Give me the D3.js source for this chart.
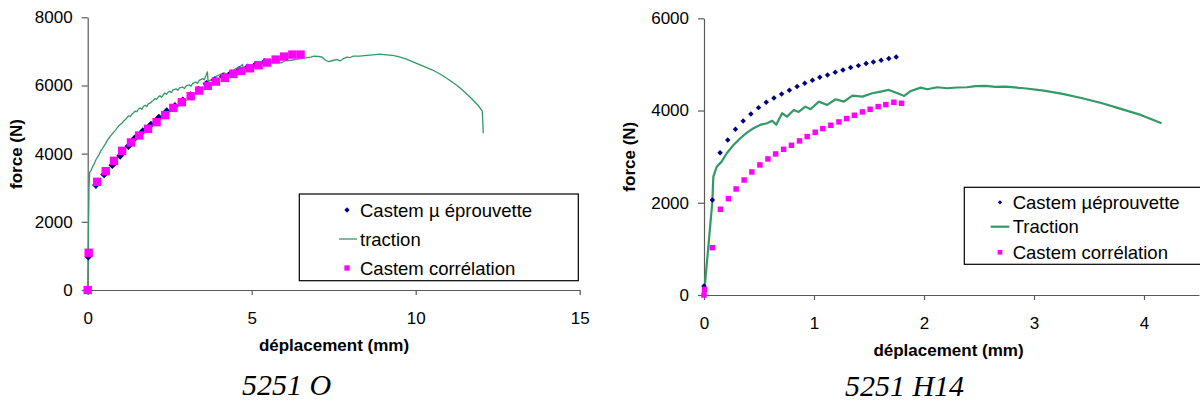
<!DOCTYPE html>
<html><head><meta charset="utf-8">
<script src="https://cdn.jsdelivr.net/npm/d3@7"></script>
<style>body{margin:0;background:#fff}svg{display:block}</style>
</head><body>
<svg id="c" width="1200" height="403"></svg>
<script>
// ---------- DATA : 5251 O ----------
const O_xTicks = [0, 5, 10, 15];
const O_yTicks = [0, 2000, 4000, 6000, 8000];
const O_tractionX = [0,0.02,0.04,0.06,0.1,0.15,0.2,0.25,0.3,0.35,0.4,0.45,0.5,0.55,0.6,0.65,0.7,0.75,0.8,0.85,0.9,0.95,1.0,1.05,1.1,1.15,1.2,1.25,1.3,1.35,1.4,1.45,1.5,1.55,1.6,1.65,1.7,1.75,1.8,1.85,1.9,1.95,2.0,2.05,2.1,2.15,2.2,2.25,2.3,2.35,2.4,2.45,2.5,2.55,2.6,2.7,2.75,2.8,2.9,2.95,3.0,3.1,3.15,3.2,3.3,3.35,3.4,3.5,3.55,3.6,3.65,3.67,3.75,3.85,3.95,4.05,4.15,4.25,4.35,4.45,4.55,4.65,4.72,4.74,4.85,5.0,5.15,5.3,5.5,5.7,5.9,6.0,6.2,6.4,6.6,6.8,6.9,7.05,7.15,7.25,7.35,7.5,7.6,7.7,7.8,7.9,8.0,8.1,8.3,8.5,8.7,8.9,9.1,9.3,9.5,9.7,9.9,10.1,10.3,10.5,10.7,10.9,11.1,11.3,11.5,11.7,11.9,12.03,12.06];
const O_tractionF = [0,1500,3000,3450,3500,3620,3700,3820,3900,3980,4080,4150,4230,4300,4390,4460,4520,4580,4640,4690,4760,4820,4860,4900,4960,5000,5060,5110,5090,5160,5200,5250,5230,5310,5340,5300,5390,5420,5380,5460,5480,5530,5560,5620,5590,5660,5700,5650,5720,5780,5740,5800,5830,5790,5870,5900,5860,5930,5950,5910,5990,6020,5980,6060,6100,6060,6150,6200,6170,6280,6400,6120,6160,6230,6280,6330,6370,6340,6420,6460,6510,6560,6620,6480,6530,6570,6620,6640,6680,6700,6660,6720,6740,6770,6800,6830,6860,6850,6830,6740,6700,6740,6760,6720,6790,6830,6820,6860,6860,6880,6900,6920,6900,6880,6840,6780,6700,6620,6540,6460,6360,6240,6110,5970,5800,5620,5420,5250,4600];
const O_microX = [0.02,0.25,0.5,0.75,0.99,1.24,1.43,1.68,1.93,2.17,2.41,2.66,2.9,3.14,3.38,3.62,3.87,4.12,4.37,4.62,4.87,5.12,5.39];
const O_microF = [977,3077,3390,3663,3937,4220,4445,4659,4855,5060,5245,5401,5560,5720,5880,6050,6160,6260,6360,6450,6530,6610,6690];
const O_corrX = [0,0.03,0.29,0.55,0.8,1.05,1.32,1.57,1.84,2.1,2.36,2.61,2.87,3.14,3.4,3.66,3.91,4.18,4.44,4.69,4.95,5.21,5.47,5.73,5.99,6.24,6.49];
const O_corrF = [0,1093,3174,3487,3790,4083,4328,4533,4728,4923,5128,5342,5509,5685,5851,5988,6115,6222,6339,6427,6505,6593,6672,6760,6848,6907,6907];

// ---------- DATA : 5251 H14 ----------
const H_xTicks = [0, 1, 2, 3, 4];
const H_yTicks = [0, 2000, 4000, 6000];
const H_tractionX = [0,0.076,0.085,0.116,0.16,0.207,0.268,0.33,0.39,0.45,0.51,0.573,0.62,0.657,0.71,0.755,0.816,0.86,0.922,0.968,1.044,1.12,1.196,1.272,1.349,1.44,1.53,1.607,1.68,1.76,1.82,1.88,1.97,2.03,2.12,2.21,2.3,2.39,2.47,2.56,2.65,2.74,2.91,3.09,3.26,3.44,3.62,3.79,3.97,4.16];
const H_tractionF = [0,2024,2566,2783,2892,3074,3254,3399,3521,3616,3688,3725,3780,3690,3941,3868,4013,3970,4085,4028,4193,4121,4245,4193,4323,4302,4374,4410,4447,4374,4317,4425,4497,4461,4505,4483,4500,4505,4530,4534,4515,4519,4483,4432,4360,4266,4157,4035,3905,3724];
const H_microX = [0,0.076,0.146,0.216,0.286,0.356,0.426,0.496,0.566,0.636,0.706,0.776,0.846,0.916,0.986,1.053,1.123,1.193,1.263,1.333,1.404,1.474,1.54,1.61,1.68,1.747];
const H_microF = [195,2061,3087,3362,3594,3774,3926,4063,4180,4273,4360,4440,4519,4592,4657,4722,4772,4831,4881,4931,4974,5018,5054,5091,5127,5163];
const H_corrX = [0,0.005,0.076,0.149,0.222,0.292,0.365,0.435,0.508,0.581,0.651,0.724,0.795,0.868,0.938,1.011,1.08,1.153,1.227,1.297,1.367,1.44,1.51,1.583,1.653,1.726,1.796];
const H_corrF = [0,120,1026,1859,2089,2299,2494,2668,2820,2950,3059,3160,3247,3341,3434,3529,3608,3681,3753,3825,3897,3970,4028,4085,4128,4179,4157];

const legendO = ["Castem \u00b5 \u00e9prouvette", "traction", "Castem corr\u00e9lation"];
const legendH = ["Castem \u00b5\u00e9prouvette", "Traction", "Castem corr\u00e9lation"];

const GREEN = "#339966", NAVY = "#000080", MAG = "#FF00FF";
const SANS = "'Liberation Sans', Arial, sans-serif";
const svg = d3.select("#c");
svg.append("rect").attr("width",1200).attr("height",403).attr("fill","#fff");

function zip(xs, ys){ return xs.map((x,i)=>[x, ys[i]]); }

function chart(cfg){
  const g = svg.append("g");
  const x = d3.scaleLinear().domain(cfg.xDomain).range(cfg.xRange);
  const y = d3.scaleLinear().domain(cfg.yDomain).range(cfg.yRange);

  const ya = g.append("g").attr("transform",`translate(${cfg.xRange[0]},0)`)
    .call(d3.axisLeft(y).tickValues(cfg.yTicks).tickSize(6).tickSizeOuter(0).tickPadding(9).tickFormat(d3.format("d")));
  const xa = g.append("g").attr("transform",`translate(0,${cfg.yRange[0]})`)
    .call(d3.axisBottom(x).tickValues(cfg.xTicks).tickSize(5).tickSizeOuter(0).tickPadding(17).tickFormat(d3.format("d")));
  [ya, xa].forEach(a=>{
    a.selectAll("path,line").attr("stroke","#5a5a5a").attr("stroke-width",1.2);
    a.selectAll("text").attr("fill","#000").style("font-family",SANS).style("font-size","17px");
  });

  g.append("text").attr("transform",`translate(${cfg.yTitleX},${cfg.yTitleY}) rotate(-90)`)
    .attr("text-anchor","middle").style("font-family",SANS).style("font-size","17px").style("font-weight","bold")
    .text("force (N)");
  g.append("text").attr("x",cfg.xTitleX).attr("y",cfg.xTitleY).attr("text-anchor","middle")
    .style("font-family",SANS).style("font-size","17px").style("font-weight","bold").text("d\u00e9placement (mm)");
  g.append("text").attr("x",cfg.capX).attr("y",cfg.capY).attr("text-anchor","middle")
    .style("font-family","'Liberation Serif', 'Times New Roman', serif").style("font-style","italic").style("font-size","30px")
    .text(cfg.caption);

  g.append("path").datum(zip(cfg.tX, cfg.tF))
    .attr("fill","none").attr("stroke",GREEN).attr("stroke-width",cfg.lineW).attr("stroke-linejoin","round")
    .attr("d", d3.line().x(d=>x(d[0])).y(d=>y(d[1])));

  const diam = d3.symbol().type(d3.symbolSquare).size(cfg.diamSize);
  g.append("g").selectAll("path").data(zip(cfg.mX, cfg.mF)).join("path")
    .attr("d", diam).attr("fill",NAVY)
    .attr("transform", d=>`translate(${x(d[0])},${y(d[1])}) rotate(45)`);

  const sq = d3.symbol().type(d3.symbolSquare).size(cfg.sqSize);
  g.append("g").selectAll("path").data(zip(cfg.cX, cfg.cF)).join("path")
    .attr("d", sq).attr("fill",MAG)
    .attr("transform", d=>`translate(${x(d[0])},${y(d[1])})`);

  const L = cfg.legend;
  g.append("rect").attr("x",L.x).attr("y",L.y).attr("width",L.w).attr("height",L.h)
    .attr("fill","#fff").attr("stroke","#000").attr("stroke-width",1.2);
  g.append("path").attr("d", d3.symbol().type(d3.symbolSquare).size(L.dSize))
    .attr("fill",NAVY).attr("transform",`translate(${L.mx},${L.rows[0]}) rotate(45)`);
  g.append("line").attr("x1",L.lx1).attr("x2",L.lx2).attr("y1",L.rows[1]).attr("y2",L.rows[1])
    .attr("stroke",GREEN).attr("stroke-width",cfg.lineW);
  g.append("path").attr("d", d3.symbol().type(d3.symbolSquare).size(L.sSize))
    .attr("fill",MAG).attr("transform",`translate(${L.mx},${L.rows[2]})`);
  cfg.legendText.forEach((t,i)=>{
    g.append("text").attr("x",L.tx).attr("y",L.rows[i]+6.5)
      .style("font-family",SANS).style("font-size","18.5px").text(t);
  });
}

chart({
  xDomain:[0,15], xRange:[87.7,579.7], yDomain:[0,8000], yRange:[290,17.3],
  xTicks:O_xTicks, yTicks:O_yTicks,
  yTitleX:21.5, yTitleY:154, xTitleX:334, xTitleY:350.5,
  capX:286.5, capY:395, caption:"5251 O",
  tX:O_tractionX, tF:O_tractionF, mX:O_microX, mF:O_microF, cX:O_corrX, cF:O_corrF,
  lineW:1.3, diamSize:30, sqSize:70,
  legend:{x:299.3,y:194,w:279,h:86.7, rows:[210,239,268], mx:347, lx1:339, lx2:357, tx:360, dSize:14, sSize:28},
  legendText:legendO
});

chart({
  xDomain:[0,4.5], xRange:[704,1199], yDomain:[0,6000], yRange:[295,18.3],
  xTicks:H_xTicks, yTicks:H_yTicks,
  yTitleX:634.7, yTitleY:156.7, xTitleX:948.5, xTitleY:356,
  capX:904.5, capY:396, caption:"5251 H14",
  tX:H_tractionX, tF:H_tractionF, mX:H_microX, mF:H_microF, cX:H_corrX, cF:H_corrF,
  lineW:2.2, diamSize:15, sqSize:30,
  legend:{x:964.3,y:187.3,w:260,h:77, rows:[202.3,226.7,252.3], mx:1000, lx1:990.7, lx2:1009.3, tx:1012.7, dSize:9, sSize:22},
  legendText:legendH
});
</script>
</body></html>
